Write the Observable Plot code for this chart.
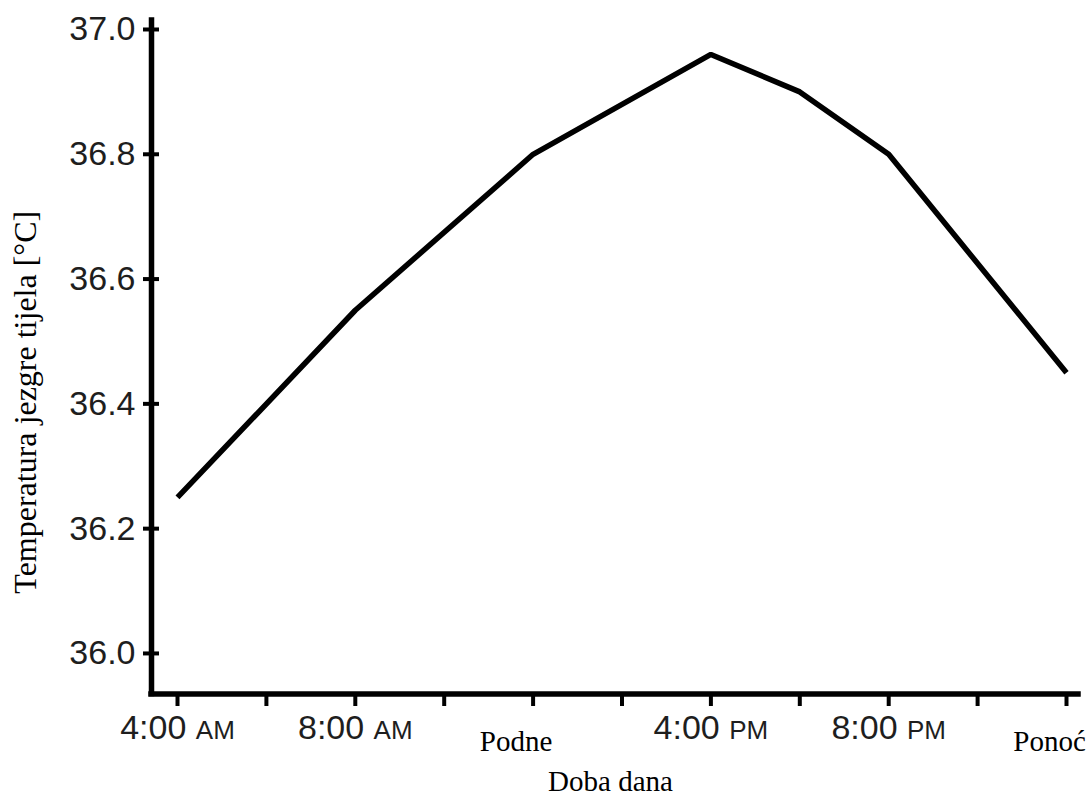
<!DOCTYPE html>
<html>
<head>
<meta charset="utf-8">
<script src="https://cdn.jsdelivr.net/npm/d3@7"></script>
<script src="https://cdn.jsdelivr.net/npm/@observablehq/plot@0.6"></script>
<style>
  html, body { margin: 0; padding: 0; background: #fff; }
</style>
</head>
<body>
<div id="chart"></div>
<script>
// Data
const hours = [4, 8, 12, 16, 18, 20, 24];
const temps = [36.25, 36.55, 36.80, 36.96, 36.90, 36.80, 36.45];

const yTicks = [36.0, 36.2, 36.4, 36.6, 36.8, 37.0];
const xTicks = [4, 6, 8, 10, 12, 14, 16, 18, 20, 22, 24];
const sansTickHours = [4, 8, 16, 20];
const sansTickLabels = ["4:00 AM", "8:00 AM", "4:00 PM", "8:00 PM"];
const serifTickHours = [12, 24];
const serifTickLabels = ["Podne", "Ponoć"];

const yTitle = "Temperatura jezgre tijela [°C]";
const xTitle = "Doba dana";

const xDomain = [3.415, 24.27];
const yDomain = [35.935, 37.0144];

const data = hours.map((h, i) => ({hour: h, temp: temps[i]}));
const sansTicks = sansTickHours.map((h, i) => ({hour: h, label: sansTickLabels[i]}));
const serifTicks = serifTickHours.map((h, i) => ({hour: h, label: serifTickLabels[i]}));

const SANS = "'Liberation Sans', Arial, Helvetica, sans-serif";
const SERIF = "'Liberation Serif', 'Times New Roman', serif";

const chart = Plot.plot({
  width: 1088,
  height: 798,
  marginLeft: 151,
  marginRight: 10,
  marginTop: 20,
  marginBottom: 104.5,
  style: {background: "#fff", overflow: "visible"},
  x: {domain: xDomain},
  y: {domain: yDomain},
  marks: [
    // axis lines
    Plot.ruleX([xDomain[0]], {stroke: "#000", strokeWidth: 5.5, strokeLinecap: "square"}),
    Plot.ruleY([yDomain[0]], {stroke: "#000", strokeWidth: 5.5, strokeLinecap: "square"}),
    // y ticks crossing the axis
    Plot.axisY({ticks: yTicks, tickSize: 16, dx: 8, strokeWidth: 4, stroke: "#000",
      tickFormat: () => "", label: null}),
    // y tick labels
    Plot.axisY({ticks: yTicks, tickSize: 0, tickPadding: 16, tickFormat: ".1f", label: null,
      fontSize: 34, fontFamily: SANS, fill: "#1e1e1e"}),
    // x ticks
    Plot.axisX({ticks: xTicks, tickSize: 12.5, strokeWidth: 4, stroke: "#000",
      tickFormat: () => "", label: null}),
    // x tick labels (sans)
    Plot.text(sansTicks, {x: "hour", text: "label", frameAnchor: "bottom", lineAnchor: "bottom",
      dy: 44.5, fontSize: 34, fontFamily: SANS, fill: "#1e1e1e"}),
    // x tick labels (serif)
    Plot.text(serifTicks, {x: "hour", text: "label", frameAnchor: "bottom", lineAnchor: "bottom",
      dy: 56.5, dx: -17, fontSize: 29, fontFamily: SERIF, fill: "#000"}),
    // axis titles
    Plot.text([yTitle], {frameAnchor: "left", textAnchor: "middle", rotate: -90, dx: -126, dy: 45,
      lineAnchor: "middle", fontSize: 32, fontFamily: SERIF, fill: "#000"}),
    Plot.text([xTitle], {frameAnchor: "bottom", textAnchor: "middle", lineAnchor: "bottom",
      dx: -4.5, dy: 97, fontSize: 29, fontFamily: SERIF, fill: "#000"}),
    // data line
    Plot.line(data, {x: "hour", y: "temp", stroke: "#000", strokeWidth: 5.5,
      strokeLinejoin: "miter", strokeLinecap: "butt"})
  ]
});

// Render AM / PM in smaller capitals as in the reference
d3.select(chart).selectAll("text").each(function () {
  const t = this.textContent;
  const m = /^(.*\S)\s+(AM|PM)$/.exec(t);
  if (m && this.children.length === 0) {
    this.textContent = m[1] + " ";
    const ts = document.createElementNS("http://www.w3.org/2000/svg", "tspan");
    ts.setAttribute("font-size", "26");
    ts.textContent = m[2];
    this.appendChild(ts);
  }
});

document.getElementById("chart").appendChild(chart);
</script>
</body>
</html>
